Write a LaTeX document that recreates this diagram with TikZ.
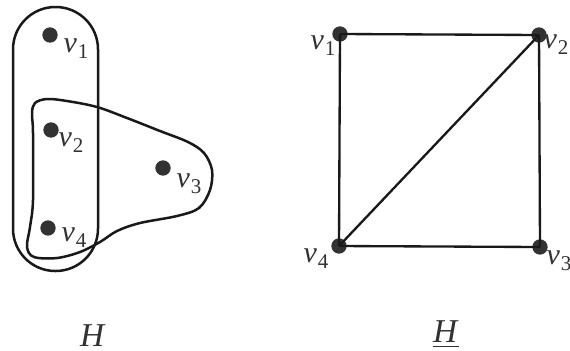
\documentclass[tikz,border=0pt]{standalone}
\usepackage{fontspec}
\setmainfont{Liberation Serif}[ItalicFont={Liberation Serif Italic}]
\definecolor{DotGray}{RGB}{50,50,50}
\definecolor{EdgeBlack}{RGB}{25,25,25}
\definecolor{TextGray}{RGB}{50,50,50}
\usetikzlibrary{positioning,calc}
\newcommand{\vtx}[1]{\textit{v}\kern0.3pt\raisebox{-0.5ex}{\fontsize{6.3}{7}\selectfont #1}}

\begin{document}
\begin{tikzpicture}[
      x=0.3pt, y=-0.3pt,
      every node/.style={font=\fontsize{9}{11}\selectfont, text=TextGray},
      dot/.style={circle, fill=DotGray, inner sep=0pt, minimum size=4.6pt},
      lbl/.style={inner sep=0pt},
      title/.style={inner sep=0pt, font=\fontsize{10}{12}\selectfont},
      hedge/.style={draw=EdgeBlack, line width=0.75pt},
      edge/.style={draw=EdgeBlack, line width=0.7pt}
  ]
    \useasboundingbox (0,0) rectangle (570,350);
    % hypergraph H
    \node[dot] (a1) at (50,35) {};
    \node[dot] (a2) at (51,130) {};
    \node[dot] (a3) at (163,168) {};
    \node[dot] (a4) at (48,228) {};
    \node[lbl, anchor=base west] (la1) at ([shift={(13,17)}]a1) {\vtx{1}};
    \node[lbl, anchor=base west] (la2) at ([shift={(7,16)}]a2) {\vtx{2}};
    \node[lbl, anchor=base west] (la3) at ([shift={(13,19)}]a3) {\vtx{3}};
    \node[lbl, anchor=base west] (la4) at ([shift={(13,13)}]a4) {\vtx{4}};
    \draw[hedge, rounded corners=12.7pt] (13,7) rectangle (98,271);
    \draw[hedge] plot[smooth cycle, tension=0.55] coordinates {
      (47,99) (67,101) (97,107) (127,118) (160,131) (188,142) (204,153)
      (212,170) (210,190) (199,208) (177,216) (140,223) (117,231) (100,242)
      (80,252) (57,258) (34,257) (27,247) (30,227) (33,200) (33,133)
      (32,113) (35,103)};
    % its 2-section
    \node[dot] (b1) at (340,34) {};
    \node[dot] (b2) at (539,35) {};
    \node[dot] (b3) at (540,247) {};
    \node[dot] (b4) at (339,246) {};
    \node[lbl, anchor=base east] (lb1) at ([shift={(-4,15)}]b1) {\vtx{1}};
    \node[lbl, anchor=base west] (lb2) at ([shift={(4,13)}]b2) {\vtx{2}};
    \node[lbl, anchor=base west] (lb3) at ([shift={(6,17)}]b3) {\vtx{3}};
    \node[lbl, anchor=base east] (lb4) at ([shift={(-10,16)}]b4) {\vtx{4}};
    \draw[edge] (b1.center) -- (b2.center);
    \draw[edge] (b2.center) -- (b3.center);
    \draw[edge] (b3.center) -- (b4.center);
    \draw[edge] (b4.center) -- (b1.center);
    \draw[edge] (b4.center) -- (b2.center);
    \node[title, anchor=base] (hl) at (93,346) {\textit{H}};
    \node[title, anchor=base] (hr) at (446,342) {\underline{\textit{H}}};
  \end{tikzpicture}
\end{document}
